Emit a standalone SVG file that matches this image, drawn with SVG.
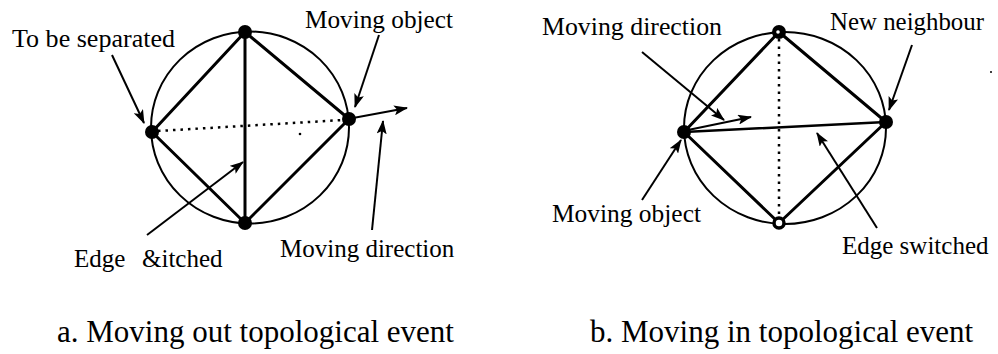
<svg xmlns="http://www.w3.org/2000/svg" width="998" height="354" viewBox="0 0 998 354">
<defs>
<style>
.circ{fill:none;stroke:#000;stroke-width:2}
.edge{stroke:#000;stroke-width:3;stroke-linecap:round}
.dot{stroke:#000;stroke-width:2.5;stroke-dasharray:2.5 5}
.arr{stroke:#000;stroke-width:2;marker-end:url(#ah)}
.node{fill:#000}
.ring{fill:#fff;stroke:#000;stroke-width:3.5}
text{font-family:'Liberation Serif','DejaVu Serif',serif;fill:#000}
.lbl{font-size:25px}
.cap{font-size:31px}
</style>
<marker id="ah" viewBox="0 0 14 10" refX="13" refY="5" markerWidth="14" markerHeight="10" markerUnits="userSpaceOnUse" orient="auto">
<path d="M0,0 L14,5 L0,10 L3,5 Z" fill="#000"/>
</marker>
</defs>
<rect width="998" height="354" fill="#fff"/>

<g id="diagram-a">
<ellipse class="circ" cx="250" cy="127.5" rx="99" ry="96"/>
<g id="connectors-a">
<line class="edge" x1="245" y1="32" x2="152" y2="132"/>
<line class="edge" x1="245" y1="32" x2="349" y2="119"/>
<line class="edge" x1="245" y1="32" x2="245" y2="223"/>
<line class="edge" x1="152" y1="132" x2="245" y2="223"/>
<line class="edge" x1="349" y1="119" x2="245" y2="223"/>
<line class="dot" x1="158" y1="131" x2="343" y2="120"/>
<line class="arr" x1="353" y1="118" x2="407" y2="108"/>
<line class="arr" x1="112" y1="55" x2="144" y2="123"/>
<line class="arr" x1="379" y1="35" x2="355" y2="107"/>
<line class="arr" x1="147" y1="235" x2="243" y2="162"/>
<line class="arr" x1="372" y1="230" x2="383" y2="121"/>
</g>
<circle cx="300" cy="134" r="1.3" fill="#000"/>
<g id="a-top"><circle class="node" cx="245" cy="32" r="7"/></g>
<g id="a-left"><circle class="node" cx="152" cy="132" r="7"/></g>
<g id="a-right"><circle class="node" cx="349" cy="119" r="7"/></g>
<g id="a-bottom"><circle class="node" cx="245" cy="223" r="7"/></g>
<text class="lbl" font-family="Liberation Serif, serif" x="12" y="47" textLength="163" lengthAdjust="spacingAndGlyphs">To be separated</text>
<text class="lbl" font-family="Liberation Serif, serif" x="305" y="28" textLength="148" lengthAdjust="spacingAndGlyphs">Moving object</text>
<text class="lbl" font-family="Liberation Serif, serif" x="74" y="267">Edge<tspan x="142">&amp;itched</tspan></text>
<text class="lbl" font-family="Liberation Serif, serif" x="280" y="257">Moving direction</text>
<text class="cap" font-family="Liberation Serif, serif" x="57" y="342">a. Moving out topological event</text>
</g>

<g id="diagram-b">
<ellipse class="circ" cx="785" cy="128" rx="101" ry="96"/>
<g id="connectors-b">
<line class="edge" x1="779" y1="32" x2="684" y2="132"/>
<line class="edge" x1="779" y1="32" x2="886" y2="122"/>
<line class="edge" x1="684" y1="132" x2="779" y2="223"/>
<line class="edge" x1="886" y1="122" x2="779" y2="223"/>
<line class="edge" x1="684" y1="132" x2="886" y2="122" style="stroke-width:2.5"/>
<line class="dot" x1="779" y1="39" x2="779" y2="217"/>
<line class="arr" x1="688" y1="130" x2="751" y2="117"/>
<line class="arr" x1="642" y1="52" x2="724" y2="120"/>
<line class="arr" x1="912" y1="45" x2="889" y2="110"/>
<line class="arr" x1="642" y1="200" x2="681" y2="140"/>
<line class="arr" x1="877" y1="228" x2="817" y2="133"/>
</g>
<circle cx="991" cy="72" r="1" fill="#000"/>
<g id="b-top"><circle class="node" cx="779" cy="32" r="7"/><circle cx="778" cy="32" r="1.8" fill="#fff"/></g>
<g id="b-left"><circle class="node" cx="684" cy="132" r="7"/></g>
<g id="b-right"><circle class="node" cx="886" cy="122" r="7"/></g>
<g id="b-bottom"><circle class="ring" cx="779" cy="223" r="5"/></g>
<text class="lbl" font-family="Liberation Serif, serif" x="542" y="35" textLength="180" lengthAdjust="spacingAndGlyphs">Moving direction</text>
<text class="lbl" font-family="Liberation Serif, serif" x="830" y="30" textLength="154" lengthAdjust="spacingAndGlyphs">New neighbour</text>
<text class="lbl" font-family="Liberation Serif, serif" x="552" y="222" textLength="149" lengthAdjust="spacingAndGlyphs">Moving object</text>
<text class="lbl" font-family="Liberation Serif, serif" x="842" y="254">Edge switched</text>
<text class="cap" font-family="Liberation Serif, serif" x="590" y="342">b. Moving in topological event</text>
</g>
</svg>
